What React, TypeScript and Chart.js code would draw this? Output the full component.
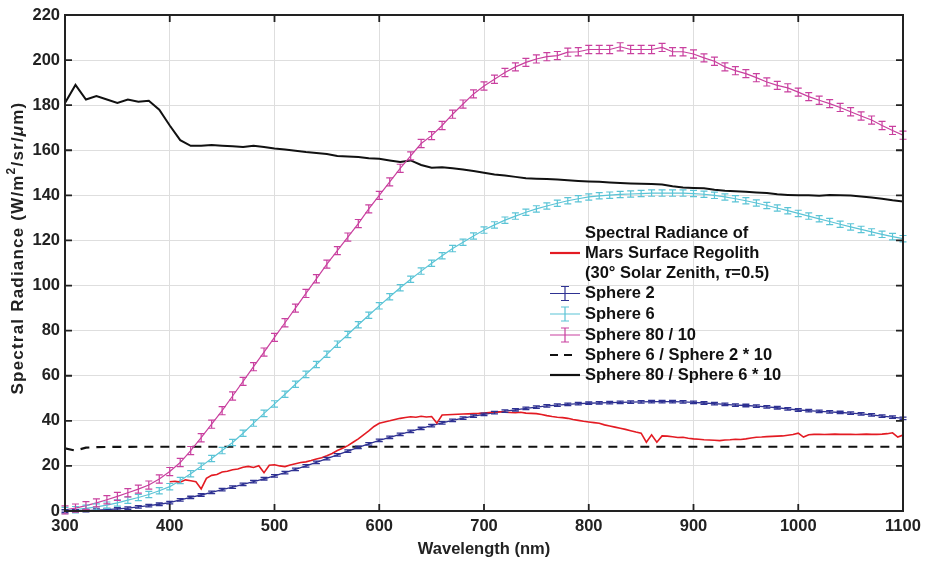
import React, { useEffect, useRef } from "react";
import { Chart, registerables } from "chart.js";
Chart.register(...registerables);

const FONT = '"Liberation Sans", Arial, Helvetica, sans-serif';

// x positions (nm) of the sphere measurements
const wavelengths = [
  300, 310, 320, 330, 340, 350, 360, 370, 380, 390,
  400, 410, 420, 430, 440, 450, 460, 470, 480, 490,
  500, 510, 520, 530, 540, 550, 560, 570, 580, 590,
  600, 610, 620, 630, 640, 650, 660, 670, 680, 690,
  700, 710, 720, 730, 740, 750, 760, 770, 780, 790,
  800, 810, 820, 830, 840, 850, 860, 870, 880, 890,
  900, 910, 920, 930, 940, 950, 960, 970, 980, 990,
  1000, 1010, 1020, 1030, 1040, 1050, 1060, 1070, 1080, 1090,
  1100,
];

const sphere2 = [
  0, 0.1, 0.2, 0.4, 0.6, 0.9, 1.3, 1.8, 2.4, 3.0,
  3.7, 4.9, 6.0, 7.1, 8.3, 9.5, 10.6, 11.8, 13.0, 14.3,
  15.6, 17.0, 18.5, 20.0, 21.6, 23.2, 24.9, 26.6, 28.2, 29.8,
  31.3, 32.7, 34.0, 35.3, 36.6, 37.9, 39.1, 40.2, 41.2, 42.1,
  42.9, 43.6, 44.3, 44.9, 45.5, 46.1, 46.6, 47.0, 47.3, 47.6,
  47.8, 48.0, 48.1, 48.2, 48.3, 48.4, 48.5, 48.5, 48.5, 48.4,
  48.2, 47.9, 47.6, 47.3, 47.0, 46.8, 46.5, 46.2, 45.8, 45.3,
  44.8, 44.5, 44.2, 44.0, 43.7, 43.4, 43.1, 42.6, 42.1, 41.6,
  41.1,
];

const sphere6 = [
  0.2, 0.6, 1.2, 1.8, 2.6, 3.6, 4.8, 6.0, 7.3, 9.0,
  10.8, 13.5, 16.5, 19.8, 23.3, 26.8, 30.4, 34.5, 39.0, 43.3,
  47.5, 51.8, 56.2, 60.6, 65.0, 69.5, 74.0, 78.3, 82.6, 86.8,
  91.0, 95.0, 99.0, 102.8, 106.4, 109.9, 113.2, 116.4, 119.2, 122.0,
  124.6, 126.9, 129.0, 130.8, 132.5, 134.0, 135.3, 136.5, 137.6, 138.5,
  139.3, 139.8, 140.1, 140.4, 140.6, 140.8, 141.0, 141.0, 141.0, 141.0,
  140.8, 140.5, 140.0, 139.3, 138.5, 137.6, 136.6, 135.5, 134.4, 133.2,
  132.0, 130.8, 129.6, 128.4, 127.2, 126.0, 124.9, 123.8, 122.7, 121.7,
  120.8,
];

const sphere80 = [
  0.5, 1.3, 2.4, 3.6, 5.0, 6.5, 8.1, 9.7, 11.5, 14.2,
  17.5, 21.5, 26.8, 32.5, 38.5, 44.5, 51.0, 57.5, 64.0, 70.5,
  77.0, 83.5, 90.0, 96.5, 103.0, 109.5, 115.5, 121.5, 127.5, 134.0,
  140.0, 146.0, 152.0, 157.5, 163.0, 166.5, 171.0, 176.0, 180.5, 185.0,
  188.5, 191.5, 194.5, 197.0, 199.0, 200.5, 201.5, 202.0, 203.5, 203.7,
  204.7, 204.7, 204.7, 205.9, 204.7, 204.7, 204.7, 205.6, 203.7, 203.7,
  202.7, 201.0, 199.5, 197.0, 195.3, 194.0, 192.2, 190.3, 188.8, 187.7,
  185.8, 183.8, 182.2, 180.7, 179.0, 177.1, 175.2, 173.4, 171.0, 168.8,
  166.7,
];

const ratio6over2 = [
  27.8, 26.8, 28.1, 28.3, 28.4, 28.5, 28.4, 28.5, 28.5, 28.5,
  28.5, 28.5, 28.5, 28.5, 28.5, 28.5, 28.5, 28.5, 28.5, 28.5,
  28.5, 28.5, 28.5, 28.5, 28.5, 28.5, 28.5, 28.5, 28.5, 28.5,
  28.5, 28.5, 28.5, 28.5, 28.5, 28.5, 28.5, 28.5, 28.5, 28.5,
  28.5, 28.5, 28.5, 28.5, 28.5, 28.5, 28.5, 28.5, 28.5, 28.5,
  28.5, 28.5, 28.5, 28.5, 28.5, 28.5, 28.5, 28.5, 28.5, 28.5,
  28.5, 28.5, 28.5, 28.5, 28.5, 28.5, 28.5, 28.5, 28.5, 28.5,
  28.5, 28.5, 28.5, 28.5, 28.5, 28.5, 28.5, 28.5, 28.5, 28.5,
  28.5,
];

const ratio80over6 = [
  181, 189, 182.5, 184, 182.5, 181, 182.5, 181.5, 182, 178,
  171, 164.5, 162, 162, 162.3, 162, 161.8, 161.5, 162, 161.5,
  160.8, 160.3, 159.8, 159.2, 158.8, 158.3, 157.5, 157.2, 157, 156.5,
  156.2, 155.5, 154.8, 155.5, 153.5, 152.3, 152.5, 152, 151.5, 150.8,
  150, 149.3, 148.8, 148.2, 147.6, 147.4, 147.3, 147, 146.7, 146.4,
  146.2, 146, 145.7, 145.5, 145.3, 145.2, 145, 144.8, 144, 143.5,
  143.3, 143.2, 142.5, 142, 141.8, 141.6, 141.3, 141, 140.5, 140.2,
  140, 140.1, 139.8, 140.2, 140, 139.9, 139.5, 139, 138.5, 137.8,
  137.3,
];

// Regolith spectrum (400-1100 nm, 5 nm steps)
const regolithWavelengths = [
  400, 405, 410, 415, 420, 425, 430, 435, 440, 445,
  450, 455, 460, 465, 470, 475, 480, 485, 490, 495,
  500, 505, 510, 515, 520, 525, 530, 535, 540, 545,
  550, 555, 560, 565, 570, 575, 580, 585, 590, 595,
  600, 605, 610, 615, 620, 625, 630, 635, 640, 645,
  650, 655, 660, 665, 670, 675, 680, 685, 690, 695,
  700, 705, 710, 715, 720, 725, 730, 735, 740, 745,
  750, 755, 760, 765, 770, 775, 780, 785, 790, 795,
  800, 805, 810, 815, 820, 825, 830, 835, 840, 845,
  850, 855, 860, 865, 870, 875, 880, 885, 890, 895,
  900, 905, 910, 915, 920, 925, 930, 935, 940, 945,
  950, 955, 960, 965, 970, 975, 980, 985, 990, 995,
  1000, 1005, 1010, 1015, 1020, 1025, 1030, 1035, 1040, 1045,
  1050, 1055, 1060, 1065, 1070, 1075, 1080, 1085, 1090, 1095,
  1100,
];

const regolith = [
  13.0, 13.2, 12.8, 13.8, 13.4, 13.0, 9.8, 14.5, 15.8, 16.2,
  17.3, 17.6, 18.3, 18.6, 19.4, 19.8, 19.3, 20.1, 17.0, 20.3,
  20.5, 20.0, 19.7, 20.4, 21.0, 21.5, 21.8, 22.4, 23.1, 23.6,
  24.5, 25.5, 26.8, 27.8, 29.0, 30.5, 32.0, 33.8, 35.5, 37.5,
  38.9, 39.5, 40.0, 40.6, 41.1, 41.5, 41.8, 41.6, 42.0, 41.7,
  41.9, 39.0, 42.6, 42.7, 42.8, 42.9, 43.0, 43.1, 43.2, 43.3,
  43.5, 43.7, 43.9, 44.0, 43.8, 43.7, 43.6, 43.8, 43.4, 43.3,
  43.2, 42.8, 42.3, 41.9, 41.6, 41.4, 41.1, 40.6, 40.2, 39.8,
  39.5, 39.2, 38.9, 38.2, 37.7, 37.2, 36.7, 36.2, 35.6, 35.0,
  34.5, 30.5, 33.8, 30.5, 33.3, 33.2, 32.9, 32.6, 32.7, 32.3,
  32.0, 31.8, 31.6, 31.5, 31.4, 31.2, 31.5, 31.6, 31.8, 31.7,
  32.0, 32.4, 32.7, 32.8, 33.0, 33.1, 33.2, 33.3, 33.6, 33.9,
  34.5, 32.8, 33.8, 34.0, 34.0, 33.9, 34.0, 34.1, 34.0, 34.0,
  34.0, 33.9, 34.0, 34.1, 34.0, 34.0, 34.1, 34.3, 34.7, 32.8,
  33.7,
];

// error bar half-heights (W/m²/sr/µm)
const sphere2Err = 0.55;
const sphere6Err = 1.4;
const sphere80Err = 1.8;

const legendLabels = [
  "Spectral Radiance of",
  "Mars Surface Regolith",
  "(30° Solar Zenith, ",
  "Sphere 2",
  "Sphere 6",
  "Sphere 80 / 10",
  "Sphere 6 / Sphere 2 * 10",
  "Sphere 80 / Sphere 6 * 10",
];

const COLORS = {
  red: "#e31b23",
  blue: "#2e3192",
  cyan: "#5bc4d6",
  magenta: "#c9409f",
  black: "#111111",
};

const xTicks = [300, 400, 500, 600, 700, 800, 900, 1000, 1100];
const yTicks = [0, 20, 40, 60, 80, 100, 120, 140, 160, 180, 200, 220];

function pts(xs: number[], ys: number[]) {
  return xs.map((x, i) => ({ x, y: ys[i] }));
}

export default function App() {
  const ref = useRef<HTMLCanvasElement>(null);

  useEffect(() => {
    const canvas = ref.current!;

    const errorBars = {
      id: "errorBars",
      afterDatasetsDraw(chart: any) {
        const { ctx, scales, chartArea } = chart;
        const xs = scales.x;
        const ys = scales.y;
        ctx.save();
        ctx.beginPath();
        ctx.rect(chartArea.left - 4, chartArea.top - 4, chartArea.width + 8, chartArea.height + 8);
        ctx.clip();
        chart.data.datasets.forEach((ds: any) => {
          if (ds.errorBar == null) return;
          ctx.strokeStyle = ds.borderColor;
          ctx.lineWidth = ds.errorWidth || 1.2;
          const cap = ds.capHalf || 3.5;
          ds.data.forEach((p: any) => {
            const px = xs.getPixelForValue(p.x);
            const top = ys.getPixelForValue(p.y + ds.errorBar);
            const bot = ys.getPixelForValue(p.y - ds.errorBar);
            ctx.beginPath();
            ctx.moveTo(px, top);
            ctx.lineTo(px, bot);
            ctx.moveTo(px - cap, top);
            ctx.lineTo(px + cap, top);
            ctx.moveTo(px - cap, bot);
            ctx.lineTo(px + cap, bot);
            ctx.stroke();
          });
        });
        ctx.restore();
      },
    };

    const boxAndLegend = {
      id: "boxAndLegend",
      afterDraw(chart: any) {
        const { ctx, chartArea, scales } = chart;
        const { left, right, top, bottom } = chartArea;
        ctx.save();
        // axes box
        ctx.strokeStyle = "#222";
        ctx.lineWidth = 2;
        ctx.strokeRect(left, top, right - left, bottom - top);
        // inward ticks
        const tl = 7;
        ctx.lineWidth = 1.8;
        ctx.beginPath();
        xTicks.forEach((v) => {
          const px = scales.x.getPixelForValue(v);
          ctx.moveTo(px, bottom);
          ctx.lineTo(px, bottom - tl);
          ctx.moveTo(px, top);
          ctx.lineTo(px, top + tl);
        });
        yTicks.forEach((v) => {
          const py = scales.y.getPixelForValue(v);
          ctx.moveTo(left, py);
          ctx.lineTo(left + tl, py);
          ctx.moveTo(right, py);
          ctx.lineTo(right - tl, py);
        });
        ctx.stroke();

        // y-axis title (rotated, with superscript and italic mu)
        const yFont = `bold 17px ${FONT}`;
        const supFont = `bold 12px ${FONT}`;
        const muFont = `italic bold 17px ${FONT}`;
        const parts: [string, string, number][] = [
          ["Spectral Radiance (W/m", yFont, 0],
          ["2", supFont, -6],
          ["/sr/", yFont, 0],
          ["μ", muFont, 0],
          ["m)", yFont, 0],
        ];
        (ctx as any).letterSpacing = "1.2px";
        let total = 0;
        parts.forEach(([t, f]) => {
          ctx.font = f;
          total += ctx.measureText(t).width;
        });
        ctx.save();
        ctx.translate(18, (top + bottom) / 2 - 15);
        ctx.rotate(-Math.PI / 2);
        ctx.fillStyle = "#222";
        ctx.textBaseline = "middle";
        ctx.textAlign = "left";
        let cx = -total / 2;
        parts.forEach(([t, f, dy]) => {
          ctx.font = f;
          ctx.fillText(t, cx, dy);
          cx += ctx.measureText(t).width;
        });
        ctx.restore();
        (ctx as any).letterSpacing = "0px";

        // legend
        const tx = 585;
        const rowsY = [233, 253, 273, 293.5, 314, 335, 355, 375];
        const font = `bold 16.5px ${FONT}`;
        ctx.fillStyle = "#111";
        ctx.textBaseline = "middle";
        ctx.textAlign = "left";
        ctx.font = font;
        for (let i = 0; i < legendLabels.length; i++) {
          ctx.fillText(legendLabels[i], tx, rowsY[i]);
        }
        // tau part of third line
        const w3 = ctx.measureText(legendLabels[2]).width;
        ctx.font = `italic bold 16.5px ${FONT}`;
        ctx.fillText("τ", tx + w3, rowsY[2]);
        const wt = ctx.measureText("τ").width;
        ctx.font = font;
        ctx.fillText("=0.5)", tx + w3 + wt, rowsY[2]);

        const x0 = 550;
        const x1 = 580;
        const xm = 565;
        // red
        ctx.strokeStyle = COLORS.red;
        ctx.lineWidth = 2.2;
        ctx.beginPath();
        ctx.moveTo(x0, rowsY[1]);
        ctx.lineTo(x1, rowsY[1]);
        ctx.stroke();
        // error bar symbols
        const ebs = [
          [COLORS.blue, rowsY[3]],
          [COLORS.cyan, rowsY[4]],
          [COLORS.magenta, rowsY[5]],
        ] as [string, number][];
        ebs.forEach(([c, y]) => {
          ctx.strokeStyle = c;
          ctx.lineWidth = 1.2;
          ctx.beginPath();
          ctx.moveTo(x0, y);
          ctx.lineTo(x1, y);
          ctx.moveTo(xm, y - 7);
          ctx.lineTo(xm, y + 7);
          ctx.moveTo(xm - 4, y - 7);
          ctx.lineTo(xm + 4, y - 7);
          ctx.moveTo(xm - 4, y + 7);
          ctx.lineTo(xm + 4, y + 7);
          ctx.stroke();
        });
        // dashed
        ctx.strokeStyle = COLORS.black;
        ctx.lineWidth = 2.2;
        ctx.beginPath();
        ctx.moveTo(550, rowsY[6]);
        ctx.lineTo(558, rowsY[6]);
        ctx.moveTo(564, rowsY[6]);
        ctx.lineTo(572, rowsY[6]);
        ctx.stroke();
        // solid
        ctx.beginPath();
        ctx.moveTo(x0, rowsY[7]);
        ctx.lineTo(x1, rowsY[7]);
        ctx.stroke();
        ctx.restore();
      },
    };

    const tickFont = { family: FONT, size: 16.5, weight: "bold" as const };

    const chart = new Chart(canvas, {
      type: "line",
      data: {
        datasets: [
          {
            label: "Regolith",
            data: pts(regolithWavelengths, regolith),
            borderColor: COLORS.red,
            borderWidth: 1.6,
            pointRadius: 0,
            tension: 0,
            fill: false,
          },
          {
            label: "Sphere 2",
            data: pts(wavelengths, sphere2),
            borderColor: COLORS.blue,
            borderWidth: 1.3,
            pointRadius: 0,
            fill: false,
            errorBar: sphere2Err,
            errorWidth: 1.3,
            capHalf: 3.5,
          } as any,
          {
            label: "Sphere 6",
            data: pts(wavelengths, sphere6),
            borderColor: COLORS.cyan,
            borderWidth: 1.2,
            pointRadius: 0,
            fill: false,
            errorBar: sphere6Err,
            errorWidth: 1.2,
            capHalf: 3.5,
          } as any,
          {
            label: "Sphere 80 / 10",
            data: pts(wavelengths, sphere80),
            borderColor: COLORS.magenta,
            borderWidth: 1.2,
            pointRadius: 0,
            fill: false,
            errorBar: sphere80Err,
            errorWidth: 1.2,
            capHalf: 3.5,
          } as any,
          {
            label: "Sphere 6 / Sphere 2 * 10",
            data: pts(wavelengths, ratio6over2),
            borderColor: COLORS.black,
            borderWidth: 2.2,
            borderDash: [9, 7],
            pointRadius: 0,
            fill: false,
          },
          {
            label: "Sphere 80 / Sphere 6 * 10",
            data: pts(wavelengths, ratio80over6),
            borderColor: COLORS.black,
            borderWidth: 2,
            pointRadius: 0,
            fill: false,
          },
        ],
      },
      options: {
        animation: false,
        responsive: false,
        maintainAspectRatio: false,
        layout: { padding: { left: 0, right: 25, top: 15, bottom: 0 } },
        plugins: {
          legend: { display: false },
          tooltip: { enabled: false },
        },
        scales: {
          x: {
            type: "linear",
            min: 300,
            max: 1100,
            ticks: {
              stepSize: 100,
              padding: 6,
              font: tickFont,
              color: "#222",
              maxRotation: 0,
              autoSkip: false,
              callback: (v: any) => String(v),
            },
            grid: { color: "#dedede", drawTicks: false, lineWidth: 1 },
            border: { display: false },
            title: {
              display: true,
              text: "Wavelength (nm)",
              font: tickFont,
              color: "#222",
              padding: { top: 0, bottom: 2 },
            },
            afterFit(s: any) {
              s.height = 50;
            },
          },
          y: {
            min: 0,
            max: 220,
            ticks: {
              stepSize: 20,
              padding: 5,
              font: tickFont,
              color: "#222",
              autoSkip: false,
              callback: (v: any) => String(v),
            },
            grid: { color: "#dedede", drawTicks: false, lineWidth: 1 },
            border: { display: false },
            title: { display: false },
            afterFit(s: any) {
              s.width = 65;
            },
          },
        },
      } as any,
      plugins: [errorBars, boxAndLegend],
    });

    return () => chart.destroy();
  }, []);

  return (
    <div style={{ position: "absolute", left: 0, top: 0, width: 928, height: 561, background: "#fff" }}>
      <canvas ref={ref} width={928} height={561} style={{ display: "block" }} />
    </div>
  );
}
